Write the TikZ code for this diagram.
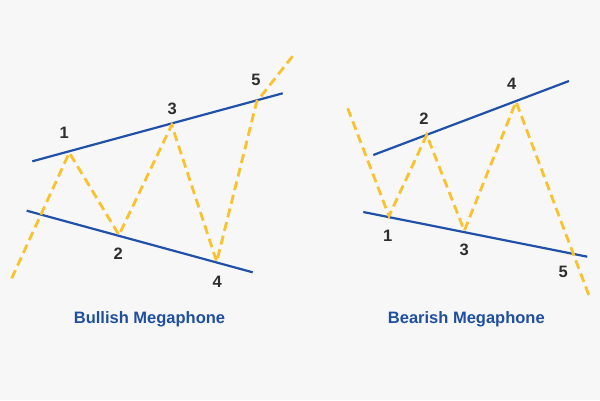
\documentclass[tikz,border=0pt]{standalone}
\usepackage{fontspec}
\setmainfont{Liberation Sans}
\definecolor{bg}{HTML}{F7F7F7}
\definecolor{trend}{HTML}{2150A8}
\definecolor{wave}{HTML}{F9C22E}
\definecolor{ttl}{HTML}{1F4F9E}
\definecolor{num}{HTML}{2E2E2E}
\tikzset{
  trendline/.style={draw=trend, line width=2.2pt},
  waveline/.style={draw=wave, line width=2.8pt, dash pattern=on 9pt off 5pt, line join=miter},
  numlabel/.style={font=\fontsize{16.5}{20}\selectfont\bfseries, text=num, inner sep=0pt},
  title/.style={font=\fontsize{16.5}{20}\selectfont\bfseries, text=ttl, inner sep=0pt}
}
\begin{document}
\begin{tikzpicture}[x=1pt,y=-1pt]
\fill[bg] (0,0) rectangle (600,400);
\useasboundingbox (0,0) rectangle (600,400);
% ---------- Bullish ----------
\coordinate (la) at (32.3,161.3);
\coordinate (lb) at (282.7,93.3);
\coordinate (lc) at (26.7,210.7);
\coordinate (ld) at (252.7,272.3);
\draw[trendline] (la) -- (lb);
\draw[trendline] (lc) -- (ld);
\coordinate (l0) at (11.7,278.3);
\coordinate (l1) at (69.3,152.7);
\coordinate (l2) at (119,235);
\coordinate (l3) at (171.7,125);
\coordinate (l4) at (216.7,261.7);
\coordinate (l5) at (256.7,101.7);
\coordinate (l6) at (294.3,54);
\draw[waveline] (l0) -- (l1) -- (l2) -- (l3) -- (l4) -- (l5) -- (l6);
\node[numlabel] (n1) at (64.3,133.3) {1};
\node[numlabel] (n2) at (118.3,253.3) {2};
\node[numlabel] (n3) at (172.3,109.3) {3};
\node[numlabel] (n4) at (217.3,282.3) {4};
\node[numlabel] (n5) at (256,80) {5};
\node[title] (t1) at (149.5,319.5) {Bullish Megaphone};
% ---------- Bearish ----------
\coordinate (ra) at (373.3,155);
\coordinate (rb) at (569,81);
\coordinate (rc) at (363.3,212);
\coordinate (rd) at (587.3,256.7);
\draw[trendline] (ra) -- (rb);
\draw[trendline] (rc) -- (rd);
\coordinate (r0) at (347.7,108.3);
\coordinate (r1) at (389,216);
\coordinate (r2) at (426.7,135);
\coordinate (r3) at (464.3,230.7);
\coordinate (r4) at (516,101.7);
\coordinate (r5) at (590,298.3);
\draw[waveline] (r0) -- (r1) -- (r2) -- (r3) -- (r4) -- (r5);
\node[numlabel] (m1) at (387.7,236) {1};
\node[numlabel] (m2) at (424,118.3) {2};
\node[numlabel] (m3) at (464.3,250) {3};
\node[numlabel] (m4) at (511.7,84) {4};
\node[numlabel] (m5) at (563.3,272) {5};
\node[title] (t2) at (466.3,319.5) {Bearish Megaphone};
\end{tikzpicture}
\end{document}
